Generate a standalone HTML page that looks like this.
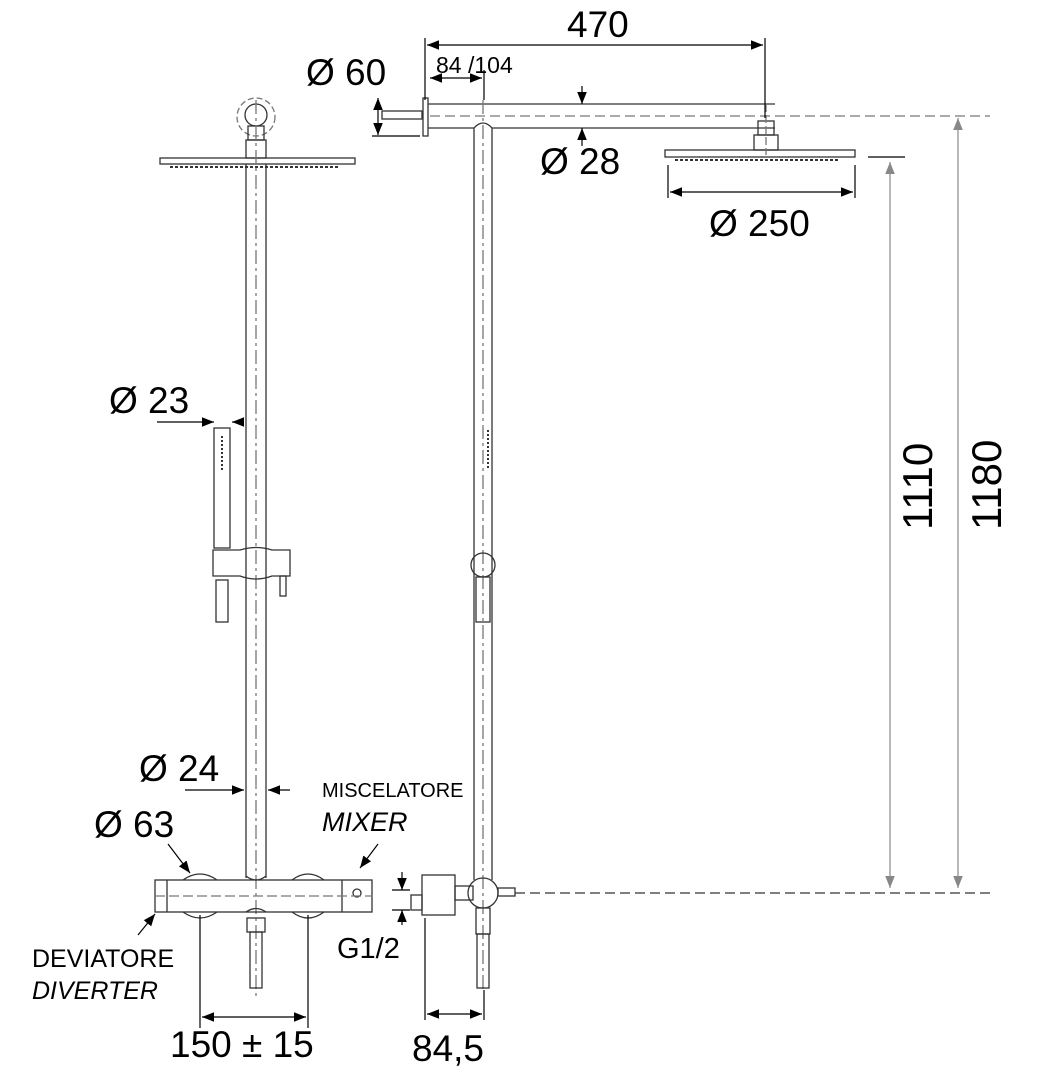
<!DOCTYPE html>
<html><head><style>
html,body{margin:0;padding:0;background:#fff;}
svg{display:block;}
text{font-family:"Liberation Sans",sans-serif;fill:#000;}
</style></head><body>
<svg width="1047" height="1080" viewBox="0 0 1047 1080" xmlns="http://www.w3.org/2000/svg">
<defs>
<marker id="a" viewBox="0 0 10 10" refX="10" refY="5" markerWidth="10" markerHeight="10" orient="auto-start-reverse"><path d="M0,1 L10,5 L0,9 z" fill="#000"/></marker>
<marker id="g" viewBox="0 0 10 10" refX="10" refY="5" markerWidth="10" markerHeight="10" orient="auto-start-reverse"><path d="M0,1 L10,5 L0,9 z" fill="#888"/></marker>
</defs>
<g fill="none" stroke="#333" stroke-width="1.3">
<circle cx="256" cy="117" r="19" stroke="#777" stroke-dasharray="6 3"/>
<circle cx="256" cy="115" r="11"/>
<rect x="248" y="126" width="16" height="14"/>
<rect x="246" y="140" width="20" height="18"/>
<rect x="160" y="158" width="195" height="6"/>
<line x1="170" y1="167" x2="340" y2="167" stroke-dasharray="3 2" stroke-width="2"/>
<line x1="246" y1="164" x2="246" y2="878"/>
<line x1="266" y1="164" x2="266" y2="878"/>
<line x1="256" y1="100" x2="256" y2="1000" stroke="#777" stroke-dasharray="14 4 3 4"/>
<rect x="214" y="428" width="16" height="120"/>
<line x1="222" y1="436" x2="222" y2="470" stroke-dasharray="2 2" stroke-width="2"/>
<rect x="216" y="580" width="12" height="42"/>
<path d="M213,550 H240 Q256,545 272,550 H290 V576 H272 Q256,582 240,576 H213 Z"/>
<rect x="280" y="576" width="6" height="20"/>
<rect x="155" y="880" width="217" height="32"/>
<line x1="167" y1="880" x2="167" y2="912"/>
<line x1="342" y1="880" x2="342" y2="912"/>
<path d="M183,880 Q200,868 217,880 M183,912 Q200,924 217,912 M292,880 Q308,868 324,880 M292,912 Q308,924 324,912"/>
<path d="M246,876 Q256,884 266,876 M246,912 Q256,905 266,912"/>
<rect x="247" y="918" width="18" height="14"/>
<rect x="250" y="932" width="12" height="56"/>
<circle cx="357" cy="893" r="4"/>
<line x1="155" y1="896" x2="372" y2="896" stroke="#777" stroke-dasharray="10 4"/>
<rect x="423" y="98" width="5" height="38"/>
<rect x="382" y="111" width="40" height="8"/>
<line x1="428" y1="104" x2="775" y2="104"/>
<line x1="428" y1="128" x2="474" y2="128"/>
<line x1="492" y1="128" x2="775" y2="128"/>
<line x1="430" y1="116" x2="990" y2="116" stroke="#777" stroke-dasharray="10 5"/>
<path d="M474,880 V128 Q483,118 492,128 V880"/>
<line x1="483" y1="100" x2="483" y2="990" stroke="#777" stroke-dasharray="14 4 3 4"/>
<line x1="488" y1="430" x2="488" y2="470" stroke-dasharray="2 2" stroke-width="2"/>
<circle cx="483" cy="565" r="12"/>
<rect x="476" y="577" width="14" height="45"/>
<rect x="758" y="121" width="16" height="14"/>
<rect x="754" y="135" width="24" height="15"/>
<rect x="665" y="150" width="190" height="7"/>
<line x1="675" y1="160" x2="840" y2="160" stroke-dasharray="3 2" stroke-width="2"/>
<line x1="766" y1="104" x2="766" y2="155" stroke="#777" stroke-dasharray="8 3"/>
<rect x="422" y="875" width="33" height="40"/>
<rect x="411" y="895" width="11" height="15"/>
<rect x="455" y="886" width="18" height="14"/>
<circle cx="483" cy="893" r="15"/>
<rect x="498" y="888" width="17" height="8"/>
<rect x="476" y="908" width="14" height="26"/>
<rect x="477" y="934" width="12" height="54"/>
</g>
<g stroke="#000" stroke-width="1.2" fill="none">
<line x1="425" y1="38" x2="425" y2="100"/>
<line x1="765" y1="38" x2="765" y2="118"/>
<line x1="427" y1="45" x2="763" y2="45" marker-start="url(#a)" marker-end="url(#a)"/>
<line x1="484" y1="70" x2="484" y2="100"/>
<line x1="430" y1="78" x2="482" y2="78" marker-start="url(#a)" marker-end="url(#a)"/>
<line x1="378" y1="98" x2="378" y2="135" marker-start="url(#a)" marker-end="url(#a)"/>
<line x1="372" y1="136" x2="420" y2="136"/>
<line x1="582" y1="86" x2="582" y2="104" marker-end="url(#a)"/>
<line x1="582" y1="146" x2="582" y2="128" marker-end="url(#a)"/>
<line x1="668" y1="165" x2="668" y2="198"/>
<line x1="855" y1="165" x2="855" y2="198"/>
<line x1="670" y1="192" x2="853" y2="192" marker-start="url(#a)" marker-end="url(#a)"/>
<line x1="868" y1="157" x2="905" y2="157"/>
<line x1="157" y1="422" x2="214" y2="422" marker-end="url(#a)"/>
<line x1="244" y1="422" x2="232" y2="422" marker-end="url(#a)"/>
<line x1="185" y1="790" x2="244" y2="790" marker-end="url(#a)"/>
<line x1="290" y1="790" x2="268" y2="790" marker-end="url(#a)"/>
<line x1="168" y1="844" x2="190" y2="873" marker-end="url(#a)"/>
<line x1="378" y1="844" x2="360" y2="868" marker-end="url(#a)"/>
<line x1="138" y1="935" x2="155" y2="914" marker-end="url(#a)"/>
<line x1="200" y1="915" x2="200" y2="1028"/>
<line x1="308" y1="915" x2="308" y2="1028"/>
<line x1="202" y1="1017" x2="306" y2="1017" marker-start="url(#a)" marker-end="url(#a)"/>
<line x1="425" y1="918" x2="425" y2="1020"/>
<line x1="484" y1="990" x2="484" y2="1020"/>
<line x1="427" y1="1014" x2="482" y2="1014" marker-start="url(#a)" marker-end="url(#a)"/>
<line x1="402" y1="872" x2="402" y2="890" marker-end="url(#a)"/>
<line x1="402" y1="925" x2="402" y2="910" marker-end="url(#a)"/>
<line x1="392" y1="890" x2="410" y2="890"/>
<line x1="392" y1="910" x2="410" y2="910"/>
</g>
<g stroke="#888" stroke-width="1.2" fill="none">
<line x1="890" y1="162" x2="890" y2="888" marker-start="url(#g)" marker-end="url(#g)"/>
<line x1="958" y1="118" x2="958" y2="888" marker-start="url(#g)" marker-end="url(#g)"/>
</g>
<line x1="515" y1="893" x2="990" y2="893" stroke="#333" stroke-width="1.3" stroke-dasharray="10 5"/>
<text x="567" y="37" font-size="37">470</text>
<text x="436" y="73" font-size="23">84 /104</text>
<text x="306" y="85" font-size="37">Ø 60</text>
<text x="540" y="174" font-size="37">Ø  28</text>
<text x="709" y="236" font-size="37">Ø 250</text>
<text x="109" y="413" font-size="37">Ø 23</text>
<text x="139" y="781" font-size="37">Ø 24</text>
<text x="94" y="837" font-size="37">Ø 63</text>
<text x="322" y="797" font-size="20">MISCELATORE</text>
<text x="322" y="831" font-size="27" font-style="italic">MIXER</text>
<text x="32" y="967" font-size="25">DEVIATORE</text>
<text x="32" y="999" font-size="25" font-style="italic">DIVERTER</text>
<text x="337" y="958" font-size="29">G1/2</text>
<text x="170" y="1057" font-size="37">150 ± 15</text>
<text x="412" y="1061" font-size="37">84,5</text>
<text transform="translate(932,530) rotate(-90)" font-size="42">1110</text>
<text transform="translate(1001,530) rotate(-90)" font-size="42">1180</text>
</svg>
</body></html>
